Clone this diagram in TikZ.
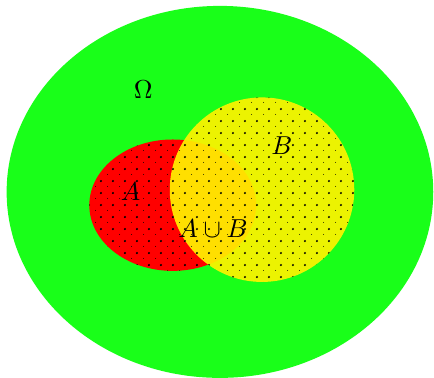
\documentclass[tikz,border=0pt]{standalone}
\usetikzlibrary{patterns}
\definecolor{vert}{RGB}{25,255,25}
\pgfdeclarepatternformonly{points}{\pgfpointorigin}{\pgfqpoint{4.6pt}{4.6pt}}{\pgfqpoint{4.6pt}{4.6pt}}{
    \pgfpathcircle{\pgfqpoint{0pt}{0pt}}{.45pt}
    \pgfpathcircle{\pgfqpoint{2.3pt}{2.3pt}}{.45pt}
    \pgfusepath{fill}}
\begin{document}
\begin{tikzpicture}
    \useasboundingbox (-2.98,-2.52) rectangle (2.90,2.60);
    \tikzstyle{pointille}=[postaction={pattern=points}]
    %%%%%%%%%%%%%%%%%%%%%%%%%%%%%%%%%%%%%% Univers
    \fill[vert] (0,0) ellipse (2.89 and 2.52);

    %%%%%%%%%%%%%%%%%%%%%%%%%%%%%%%%%%%%%% Ensembles A et B
    \fill[red,pointille] (-0.64,-0.18) ellipse (1.13 and 0.89);
    \fill[yellow,fill opacity=0.92,pointille] (0.57,0.03) circle (1.25);

    %%%%%%%%%%%%%%%%%%%%%%%%%%%%%%%%%%%%%% Noms
    \node (omega) at (-1.04,1.38) {$\Omega$};
    \node (a) at (-1.21,0) {$A$};
    \node (b) at (0.84,0.62) {$B$};
    \node (union) at (-0.095,-0.50) {$A\cup B$};
\end{tikzpicture}
\end{document}
